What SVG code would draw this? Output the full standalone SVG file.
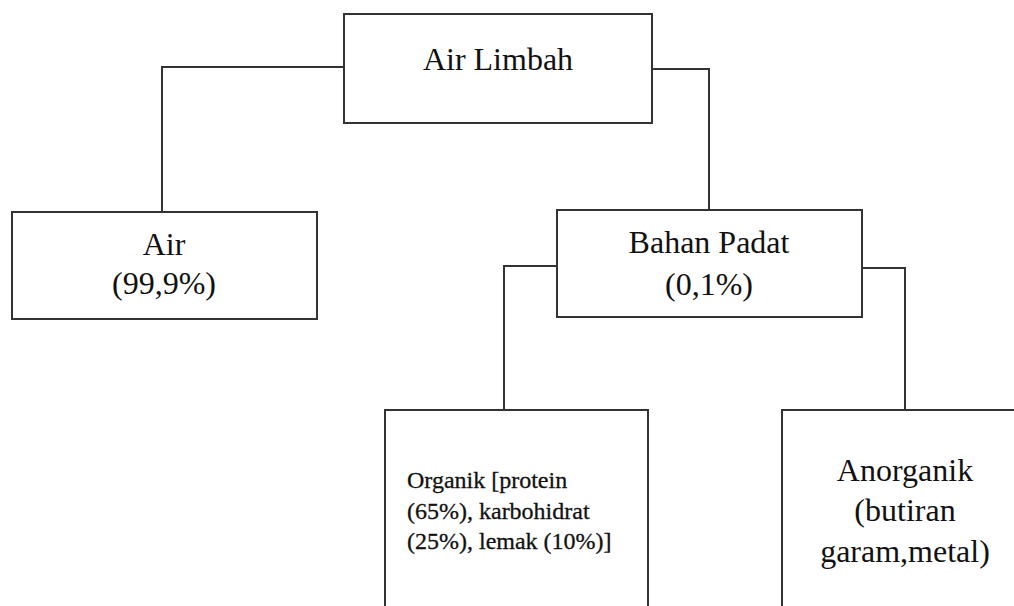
<svg xmlns="http://www.w3.org/2000/svg" width="1014" height="606" viewBox="0 0 1014 606">
<style>
.box{fill:#fff;stroke:#333;stroke-width:2}
.conn{fill:none;stroke:#333;stroke-width:2}
.t{font-family:'Liberation Serif','Times New Roman','DejaVu Serif',serif;fill:#111;text-anchor:middle}
.big{font-size:32px}
.small{font-size:24px;text-anchor:start;stroke:#111;stroke-width:0.3}
</style>
<rect width="1014" height="606" fill="#fff"/>
<g id="connectors">
<path class="conn" d="M344 67 H162 V212"/>
<path class="conn" d="M652 69 H709 V210"/>
<path class="conn" d="M557 266 H504 V410"/>
<path class="conn" d="M862 268 H905 V410"/>
</g>
<g id="air-limbah">
<rect class="box" x="344" y="14" width="308" height="109"/>
<text class="t big" x="498" y="70" font-family="Liberation Serif">Air Limbah</text>
</g>
<g id="air">
<rect class="box" x="12" y="212" width="305" height="107"/>
<text class="t big" x="164" y="255">Air</text>
<text class="t big" x="164" y="294">(99,9%)</text>
</g>
<g id="bahan-padat">
<rect class="box" x="557" y="210" width="305" height="107"/>
<text class="t big" x="709" y="253">Bahan Padat</text>
<text class="t big" x="709" y="295">(0,1%)</text>
</g>
<g id="organik">
<rect class="box" x="385" y="410" width="263" height="210"/>
<text class="t small" x="407" y="488">Organik [protein</text>
<text class="t small" x="407" y="519">(65%), karbohidrat</text>
<text class="t small" x="407" y="549">(25%), lemak (10%)]</text>
</g>
<g id="anorganik">
<rect class="box" x="782" y="410" width="250" height="210"/>
<text class="t big" x="905" y="481">Anorganik</text>
<text class="t big" x="905" y="521">(butiran</text>
<text class="t big" x="905" y="562">garam,metal)</text>
</g>
</svg>
